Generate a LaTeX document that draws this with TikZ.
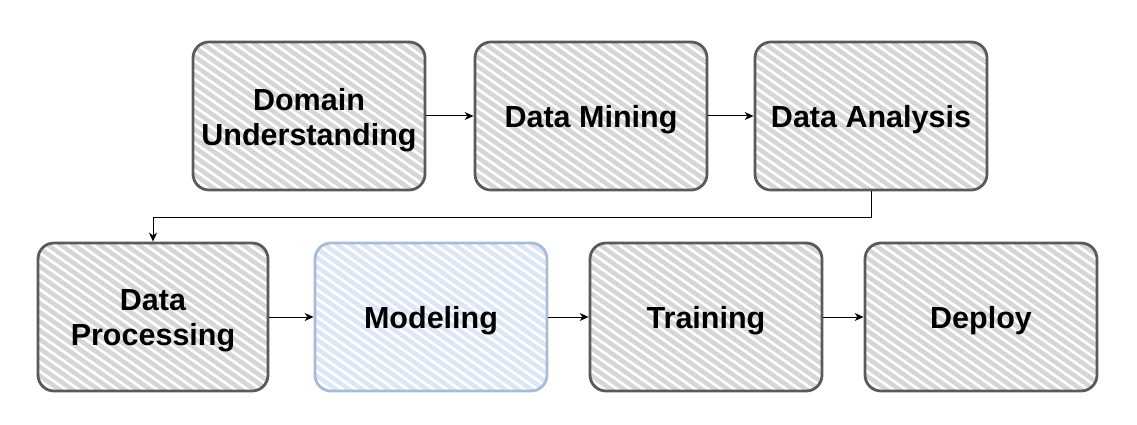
\documentclass[tikz,border=0pt]{standalone}
\usepackage{fontspec}
\setmainfont{Liberation Sans}
\usetikzlibrary{arrows.meta}
\definecolor{stripegray}{HTML}{D6D6D6}
\definecolor{bordergray}{HTML}{5A5A5A}
\definecolor{stripeblue}{HTML}{DCE6F5}
\definecolor{borderblue}{HTML}{A8BCD8}
\begin{document}
\begin{tikzpicture}[x=1pt,y=-1pt,
  hatch/.style={path picture={
    \foreach \i in {-240,-227,...,250}
      \draw[line width=4.5pt,#1] ([xshift=\i pt]path picture bounding box.north west) -- ++(230pt,-161pt);}},
  box/.style={draw=bordergray, line width=2.8pt, rounded corners=16pt,
    minimum width=232pt, minimum height=148pt, inner sep=0pt,
    align=center, font=\fontsize{30.5}{35}\selectfont\bfseries, text=black,
    hatch=stripegray},
  bluebox/.style={box, draw=borderblue, hatch=stripeblue},
  lbl/.style={inner sep=0pt, align=center, font=\fontsize{30.5}{35}\selectfont\bfseries, text=black},
  conn/.style={line width=1pt, -{Stealth[length=9pt,width=8pt]}}]
\useasboundingbox (0,0) rectangle (1137,425);
\node[box] (du) at (309,116) {};
\node[box] (dm) at (591,116) {};
\node[box] (da) at (871,116) {};
\node[box, minimum width=230pt] (dp) at (153,317) {};
\node[bluebox] (mo) at (431,317) {};
\node[box] (tr) at (706,317) {};
\node[box] (de) at (981,317) {};
\node[lbl] at ([yshift=-4pt]du.center) {Domain\\Understanding};
\node[lbl] at ([yshift=-4pt]dm.center) {Data Mining};
\node[lbl] at ([yshift=-4pt]da.center) {Data Analysis};
\node[lbl] at ([yshift=-4pt]dp.center) {Data\\Processing};
\node[lbl] at ([yshift=-4pt]mo.center) {Modeling};
\node[lbl] at ([yshift=-4pt]tr.center) {Training};
\node[lbl] at ([yshift=-4pt]de.center) {Deploy};
\coordinate (turn) at (871,217);
\draw[conn] (du) -- (dm);
\draw[conn] (dm) -- (da);
\draw[conn] (da.south) -- (turn) -| (dp.north);
\draw[conn] (dp) -- (mo);
\draw[conn] (mo) -- (tr);
\draw[conn] (tr) -- (de);
\end{tikzpicture}
\end{document}
